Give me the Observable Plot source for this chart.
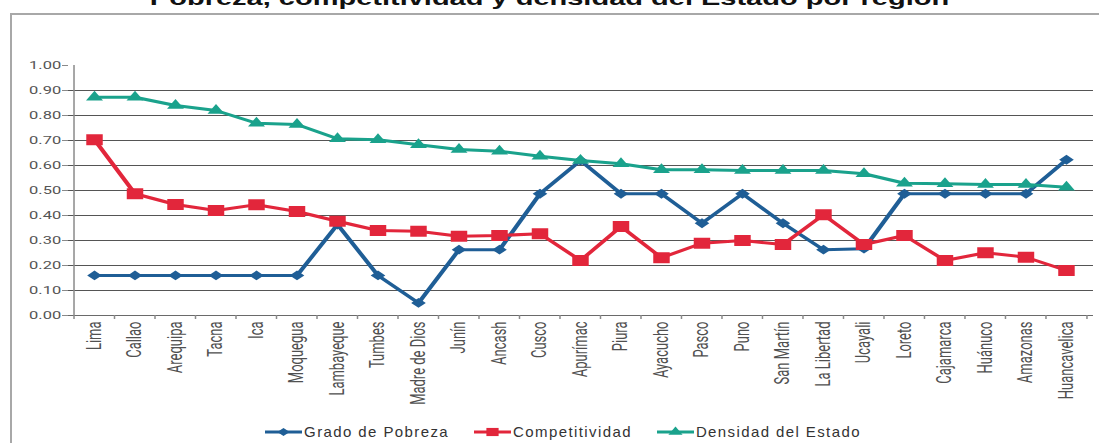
<!DOCTYPE html>
<html><head><meta charset="utf-8">
<script src="https://cdn.jsdelivr.net/npm/d3@7"></script>
<script src="https://cdn.jsdelivr.net/npm/@observablehq/plot@0.6"></script>
<style>
body{margin:0;background:#fff;}
#wrap{position:relative;width:1099px;height:443px;overflow:hidden;background:#fff;}
#frame{position:absolute;left:10px;top:13px;width:1200px;height:600px;border-left:2px solid #a8a8a8;border-top:2px solid #a8a8a8;}
#title{position:absolute;left:0;top:-12px;width:1099px;text-align:center;font:bold 20px/20px "Liberation Sans",Arial,sans-serif;color:#111;transform:scaleX(1.45);transform-origin:549.5px 0;white-space:nowrap;}
#chart{position:absolute;left:0;top:0;transform:scaleX(1.5);transform-origin:0 0;}
#legend{position:absolute;left:0;top:424px;width:1125px;display:flex;justify-content:center;gap:24px;font:15px/16px "Liberation Sans",Arial,sans-serif;letter-spacing:1.4px;color:#333;white-space:nowrap;}
#legend .item{display:flex;align-items:center;}
#legend svg{display:block;margin-right:1px;}
</style>
</head><body>
<div id="wrap">
  <div id="title">Pobreza, competitividad y densidad del Estado por región</div>
  <div id="frame"></div>
  <div id="chart"></div>
  <div id="legend"></div>
</div>
<script>
const regions = ["Lima","Callao","Arequipa","Tacna","Ica","Moquegua","Lambayeque","Tumbes","Madre de Dios","Junín","Ancash","Cusco","Apurímac","Piura","Ayacucho","Pasco","Puno","San Martín","La Libertad","Ucayali","Loreto","Cajamarca","Huánuco","Amazonas","Huancavelica"];
const pobreza = [0.16,0.16,0.16,0.16,0.16,0.16,0.364,0.16,0.05,0.263,0.263,0.487,0.62,0.487,0.487,0.369,0.487,0.369,0.263,0.267,0.487,0.487,0.487,0.487,0.623];
const competitividad = [0.703,0.487,0.444,0.42,0.443,0.416,0.377,0.34,0.337,0.317,0.32,0.327,0.22,0.356,0.231,0.289,0.30,0.284,0.403,0.284,0.32,0.22,0.251,0.233,0.18];
const densidad = [0.873,0.873,0.84,0.82,0.769,0.764,0.707,0.703,0.683,0.664,0.657,0.637,0.62,0.607,0.583,0.583,0.58,0.58,0.58,0.567,0.529,0.527,0.524,0.524,0.513];
const seriesNames = ["Grado de Pobreza","Competitividad","Densidad del Estado"];
const seriesColors = ["#1f5e96","#e2263b","#1aa28c"];
const seriesSymbols = ["diamond2","square","triangle2"];
const seriesR = [4.4, 6.2, 5.4];
const yTicks = [0,0.1,0.2,0.3,0.4,0.5,0.6,0.7,0.8,0.9,1.0];
const gridTicks = [0.1,0.2,0.3,0.4,0.5,0.6,0.7,0.8,0.9];

const SX = 1.5;
const W = 1099 / SX;
const mL = 68 / SX, mR = 6 / SX;
const bw = (W - mL - mR) / regions.length;

const valuesList = [pobreza, competitividad, densidad];
const rows = valuesList.flatMap((vals, s) => regions.map((r, i) => ({region: r, value: vals[i], name: seriesNames[s]})));

const marks = [
  Plot.ruleY(gridTicks, {stroke: "#555", strokeWidth: 1.1}),
  Plot.ruleX([regions[0]], {dx: -bw / 2, y1: 0, y2: 1, stroke: "#8a8a8a", strokeWidth: 1}),
  Plot.ruleY([0], {stroke: "#6a6a6a", strokeWidth: 1}),
  Plot.axisY({ticks: yTicks, tickFormat: d3.format(".2f"), tickSize: 6 / SX, tickPadding: 1.5 / SX, fontSize: 11, stroke: "#8a8a8a", fill: "#555", label: null}),
  Plot.axisX({tickSize: 4, text: null, dx: -bw / 2, stroke: "#8a8a8a", label: null}),
  Plot.axisX([regions[regions.length - 1]], {tickSize: 4, text: null, dx: bw / 2, stroke: "#8a8a8a", label: null}),
  Plot.axisX({tickSize: 0, tickPadding: 6, tickRotate: -90, fontSize: 13, fill: "#505050", label: null})
];
seriesNames.forEach((name, s) => {
  const d = rows.filter(r => r.name === name);
  marks.push(Plot.line(d, {x: "region", y: "value", stroke: seriesColors[s], strokeWidth: 3}));
  marks.push(Plot.dot(d, {x: "region", y: "value", symbol: seriesSymbols[s], r: seriesR[s], fill: seriesColors[s], stroke: "none"}));
});

const chart = Plot.plot({
  width: W, height: 412,
  marginLeft: mL, marginRight: mR, marginTop: 65, marginBottom: 97,
  x: {type: "band", domain: regions, padding: 0, align: 0.5},
  y: {domain: [0, 1]},
  style: {fontFamily: "Roboto, 'Liberation Sans', sans-serif", background: "transparent", overflow: "visible"},
  marks
});
document.getElementById("chart").appendChild(chart);

// legend
const legend = document.getElementById("legend");
const symMap = {diamond2: d3.symbolDiamond2, square: d3.symbolSquare2, triangle2: d3.symbolTriangle2};
seriesNames.forEach((name, s) => {
  const item = document.createElement("div");
  item.className = "item";
  const svg = d3.create("svg").attr("width", 39).attr("height", 14);
  svg.append("line").attr("x1", 1).attr("x2", 38).attr("y1", 7).attr("y2", 7).attr("stroke", seriesColors[s]).attr("stroke-width", 3);
  svg.append("path").attr("transform", "translate(19.5,7) scale(1.5,1)")
    .attr("d", d3.symbol(symMap[seriesSymbols[s]], Math.PI * seriesR[s] * seriesR[s] * 0.7)())
    .attr("fill", seriesColors[s]);
  item.appendChild(svg.node());
  const span = document.createElement("span");
  span.textContent = name;
  item.appendChild(span);
  legend.appendChild(item);
});
</script>
</body></html>
